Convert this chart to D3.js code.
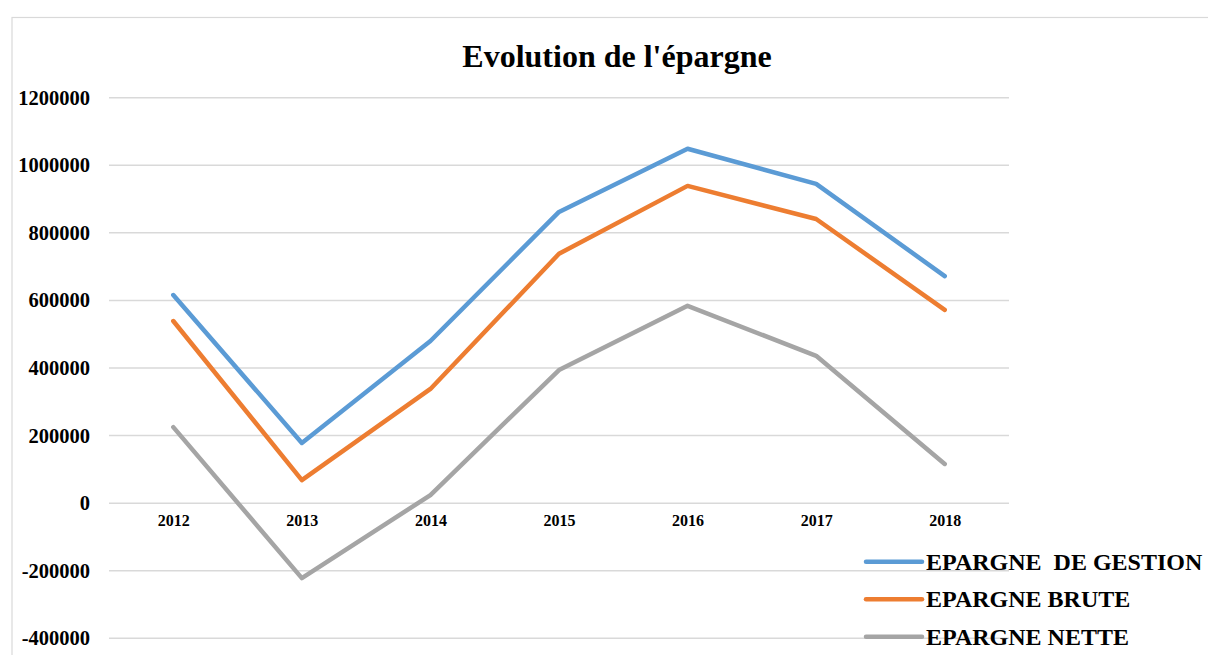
<!DOCTYPE html>
<html><head><meta charset="utf-8">
<script src="https://cdn.jsdelivr.net/npm/d3@7"></script>
<style>body{margin:0;background:#fff}svg{display:block}</style>
</head><body>
<script>
const categories = ["2012","2013","2014","2015","2016","2017","2018"];
const seriesNames = ["EPARGNE  DE GESTION","EPARGNE BRUTE","EPARGNE NETTE"];
const gestion = [616000,178000,480000,862000,1049000,945000,672000];
const brute = [539000,68000,338000,738000,939000,841000,572000];
const nette = [225000,-222000,24000,394000,584000,436000,116000];
const yTicks = [-400000,-200000,0,200000,400000,600000,800000,1000000,1200000];
const colors = ["#5b9bd5","#ed7d31","#a5a5a5"];
const title = "Evolution de l'épargne";

const W=1208,H=655;
const svg=d3.select("body").append("svg").attr("width",W).attr("height",H);
svg.append("rect").attr("x",12).attr("y",17.5).attr("width",W+10).attr("height",H+10)
  .attr("fill","#fff").attr("stroke","#d9d9d9").attr("stroke-width",1.2);

const font="'Liberation Serif','Times New Roman',serif";
const x=d3.scalePoint().domain(categories).range([109,1009]).padding(0.5);
const y=d3.scaleLinear().domain([-400000,1200000]).range([638.3,97.7]);

// grid
svg.append("g").selectAll("line").data(yTicks).join("line")
  .attr("x1",109).attr("x2",1009).attr("y1",d=>y(d)).attr("y2",d=>y(d))
  .attr("stroke","#d9d9d9").attr("stroke-width",1.5);

// y labels
const yAxis=svg.append("g").attr("transform","translate(90,0)")
  .call(d3.axisLeft(y).tickValues(yTicks).tickSize(0).tickPadding(0).tickFormat(d=>String(d)));
yAxis.select(".domain").remove();
yAxis.selectAll("text").attr("font-family",font).attr("font-weight","bold").attr("font-size",20.5).attr("fill","#000");

// x labels
const xAxis=svg.append("g").attr("transform",`translate(0,${y(0)})`)
  .call(d3.axisBottom(x).tickSize(0).tickPadding(11));
xAxis.select(".domain").remove();
xAxis.selectAll("text").attr("font-family",font).attr("font-weight","bold").attr("font-size",16).attr("fill","#000");

// lines
const data=[gestion,brute,nette];
const line=d3.line().x((d,i)=>x(categories[i])).y(d=>y(d));
svg.append("g").selectAll("path").data(data).join("path")
  .attr("d",line).attr("fill","none").attr("stroke",(d,i)=>colors[i])
  .attr("stroke-width",4.5).attr("stroke-linejoin","round").attr("stroke-linecap","round");

// title
svg.append("text").attr("x",617).attr("y",67).attr("text-anchor","middle")
  .attr("font-family",font).attr("font-weight","bold").attr("font-size",32).text(title);

// legend
const lg=svg.append("g").selectAll("g").data(seriesNames).join("g")
  .attr("transform",(d,i)=>`translate(866,${561.7+i*37.5})`);
lg.append("line").attr("x1",0).attr("x2",56).attr("stroke",(d,i)=>colors[i])
  .attr("stroke-width",4.5).attr("stroke-linecap","round");
lg.append("text").attr("x",60).attr("y",8).attr("font-family",font).attr("font-weight","bold")
  .attr("font-size",24).style("white-space","pre").attr("xml:space","preserve").text(d=>d);
</script>
</body></html>
